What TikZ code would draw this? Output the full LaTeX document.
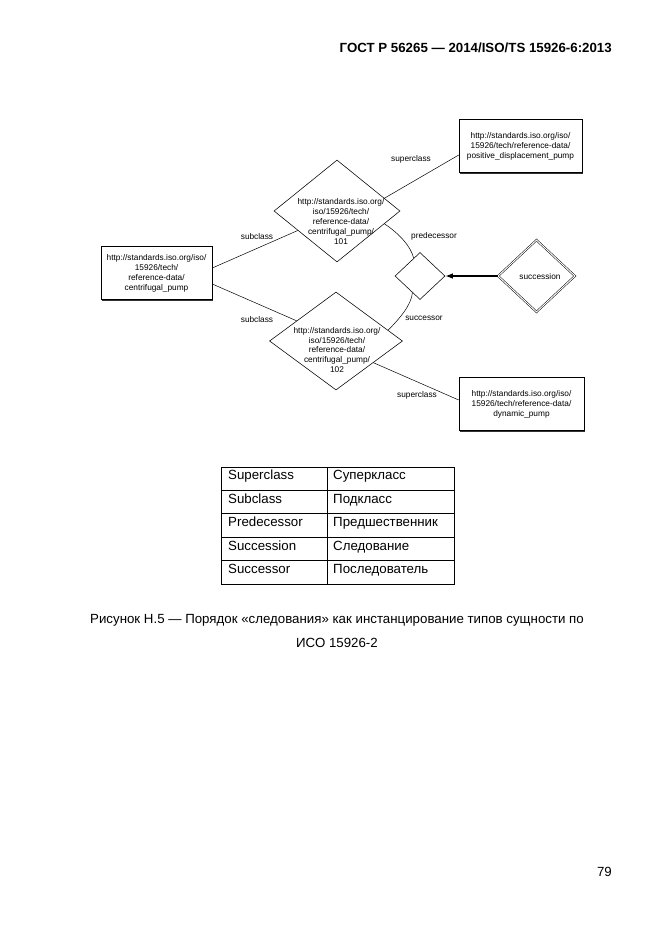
\documentclass[tikz,border=0pt]{standalone}
\usepackage{fontspec}
\setmainfont{Liberation Sans}
\usetikzlibrary{shapes.geometric,shadows,calc,arrows.meta}
\newlength{\pxu}
\setlength{\pxu}{0.3175mm}

\begin{document}
\begin{tikzpicture}[x=1\pxu,y=-1\pxu,
		small/.style={font=\fontsize{7.5}{9}\selectfont},
		urlbox/.style={draw,small,line width=0.5pt,fill=white,minimum width=#1,minimum height=53\pxu,inner sep=0pt,align=center,
			drop shadow={shadow xshift=0.35mm,shadow yshift=-0.35mm,fill=black!80,opacity=1}},
		urldiamond/.style={draw,diamond,line width=0.5pt,inner sep=0pt},
		urltext/.style={small,align=center,inner sep=0pt},
		lbl/.style={small,inner sep=0pt},
		link/.style={line width=0.45pt},
		tabtext/.style={anchor=base west,inner sep=0pt,font=\fontsize{12}{14}\selectfont},
		captext/.style={anchor=base,inner sep=0pt,font=\fontsize{12}{14}\selectfont}]
	\path[use as bounding box,fill=white] (0,0) rectangle (662,935);
	\node[anchor=base east,inner sep=0pt,font=\bfseries\fontsize{12}{14}\selectfont] (head) at (612,52) {ГОСТ Р 56265 — 2014/ISO/TS 15926-6:2013};

	\node[urlbox=123\pxu] (ppd) at (520.5,146) {http://standards.iso.org/iso/\\15926/tech/reference-data/\\positive\_displacement\_pump};
	\node[urlbox=111\pxu] (cpump) at (156.5,273) {http://standards.iso.org/iso/\\15926/tech/\\reference-data/\\centrifugal\_pump};
	\node[urlbox=125\pxu] (dyn) at (521.5,404) {http://standards.iso.org/iso/\\15926/tech/reference-data/\\dynamic\_pump};

	\node[urldiamond,minimum width=126\pxu,minimum height=102\pxu] (d101) at (337,211) {};
	\node[urltext] (t101) at (341,221.5) {http://standards.iso.org/\\iso/15926/tech/\\reference-data/\\centrifugal\_pump/\\101};
	\node[urldiamond,minimum width=133\pxu,minimum height=98\pxu] (d102) at (336,341) {};
	\node[urltext] (t102) at (337,350) {http://standards.iso.org/\\iso/15926/tech/\\reference-data/\\centrifugal\_pump/\\102};
	\node[urldiamond,minimum width=50\pxu,minimum height=47\pxu] (dorder) at (420,276) {};
	\node[urldiamond,double,double distance=0.9pt,line width=0.45pt,minimum width=77\pxu,minimum height=72\pxu] (dsucc) at (536.5,276) {};
	\node[lbl] (tsucc) at (540,277) {succession};

	\draw[link] ([yshift=5\pxu]cpump.east) -- ($(d101.west)!0.38!(d101.south)$);
	\draw[link] ([yshift=-11\pxu]cpump.east) -- ($(d102.west)!0.41!(d102.north)$);
	\draw[link] ($(d101.north)!0.75!(d101.east)$) -- ([yshift=-9\pxu]ppd.west);
	\draw[link] ($(d102.east)!0.44!(d102.south)$) -- ([yshift=4\pxu]dyn.west);
	\draw[link] ($(d101.east)!0.25!(d101.south)$) .. controls +(15,10) and +(-3,-12) .. ($(dorder.north)!0.25!(dorder.west)$);
	\draw[link] ($(dorder.south)!0.3!(dorder.west)$) .. controls +(-1,12) and +(12,-12) .. ($(d102.north)!0.78!(d102.east)$);
	\draw[line width=1.3pt,-{Latex[length=2.4mm,width=1.8mm]}] (dsucc.west) -- (dorder.east);

	\node[lbl] (lsup1) at (411,159) {superclass};
	\node[lbl] (lsub1) at (257,237) {subclass};
	\node[lbl] (lsub2) at (257,320) {subclass};
	\node[lbl] (lpred) at (434,236) {predecessor};
	\node[lbl] (lsucc) at (424,318) {successor};
	\node[lbl] (lsup2) at (417,395) {superclass};

	\foreach \en/\ru [count=\i] in {Superclass/Суперкласс,Subclass/Подкласс,Predecessor/Предшественник,Succession/Следование,Successor/Последователь}{
		\node[tabtext] (en\i) at (228,{467+23.4*(\i-1)+12.8}) {\en};
		\node[tabtext] (ru\i) at (333,{467+23.4*(\i-1)+12.8}) {\ru};
	}
	\draw[line width=0.9pt] (221,467) rectangle (454,584);
	\draw[line width=0.5pt] (327,467) -- (327,584);
	\foreach \y in {490.4,537.2,560.6}
		\draw[line width=0.5pt] (221,\y) -- (454,\y);
	\draw[line width=1pt] (221,513.8) -- (454,513.8);

	\node[captext] (cap1) at (337,623) {Рисунок Н.5 — Порядок «следования» как инстанцирование типов сущности по};
	\node[captext] (cap2) at (337,647) {ИСО 15926-2};
	\node[anchor=base east,inner sep=0pt,font=\fontsize{12}{14}\selectfont] (pnum) at (612,876) {79};
\end{tikzpicture}
\end{document}
